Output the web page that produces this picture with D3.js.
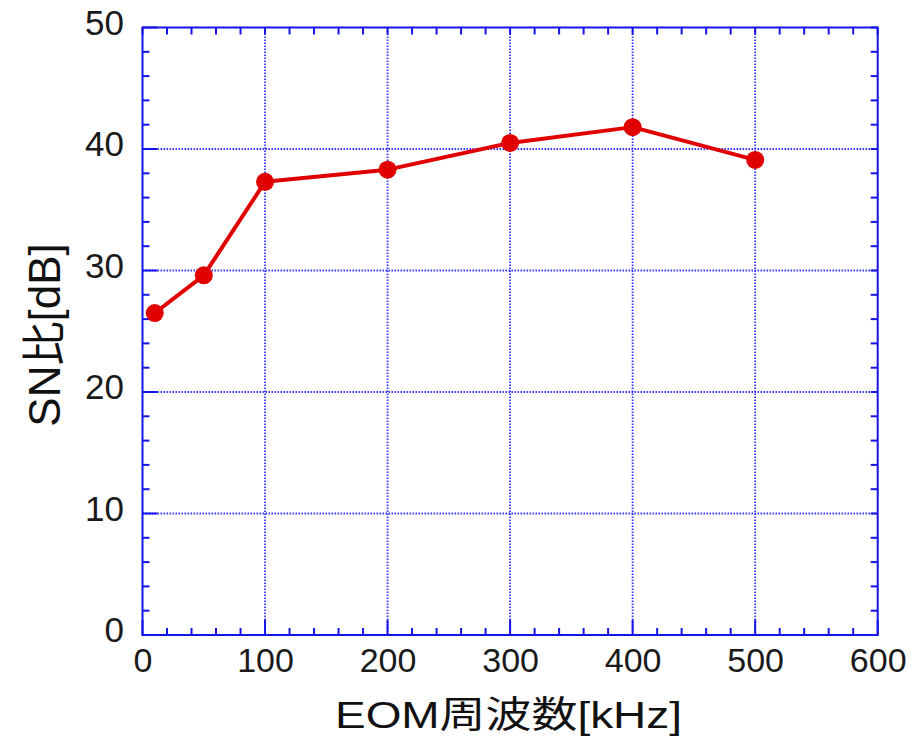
<!DOCTYPE html>
<html>
<head>
<meta charset="utf-8">
<script src="https://cdn.jsdelivr.net/npm/d3@7"></script>
<style>
  html, body { margin: 0; padding: 0; background: #fff; }
  svg { display: block; }
  text { font-family: "Liberation Sans", Arial, sans-serif; fill: #1a1a1a; }
  .cjk { font-family: "Liberation Sans", "Noto Sans CJK JP", sans-serif; fill: #111; }
</style>
</head>
<body>
<svg id="chart" width="922" height="742"></svg>
<script>
// EOM modulation frequency [kHz] and measured SN ratio [dB]
const freqKHz = [10, 50, 100, 200, 300, 400, 500];
const snrDB   = [26.5, 29.6, 37.3, 38.3, 40.5, 41.8, 39.1];

const xTicks = [0, 100, 200, 300, 400, 500, 600];
const yTicks = [0, 10, 20, 30, 40, 50];
const xMinor = d3.range(0, 601, 20);
const yMinor = d3.range(0, 51, 2);

const xTitle = "EOM周波数[kHz]";
const yTitle = "SN比[dB]";

const axisBlue = "#1414e6";
const gridBlue = "#3434ff";
const red = "#e00000";

const svg = d3.select("#chart");
const plot = { left: 142.5, right: 877.7, top: 27.5, bottom: 635 };

const x = d3.scaleLinear().domain([0, 600]).range([plot.left, plot.right]);
const y = d3.scaleLinear().domain([0, 50]).range([plot.bottom, plot.top]);

// dotted grid at interior major ticks
const g = svg.append("g");
g.selectAll("line.gx").data(xTicks.filter(d => d > 0 && d < 600)).join("line")
  .attr("x1", d => x(d)).attr("x2", d => x(d))
  .attr("y1", plot.top).attr("y2", plot.bottom)
  .attr("stroke", gridBlue).attr("stroke-width", 1.8).attr("stroke-dasharray", "1.5,1.5");
g.selectAll("line.gy").data(yTicks.filter(d => d > 0 && d < 50)).join("line")
  .attr("y1", d => y(d)).attr("y2", d => y(d))
  .attr("x1", plot.left).attr("x2", plot.right)
  .attr("stroke", gridBlue).attr("stroke-width", 1.8).attr("stroke-dasharray", "1.5,1.5");

// inward ticks on all four sides
const minorLen = 7, majorLen = 15;
const isMajorX = d => d % 100 === 0;
const isMajorY = d => d % 10 === 0;
const tk = svg.append("g").attr("stroke", axisBlue).attr("stroke-width", 2);
tk.selectAll("line.bx").data(xMinor).join("line")
  .attr("x1", d => x(d)).attr("x2", d => x(d))
  .attr("y1", plot.bottom).attr("y2", d => plot.bottom - (isMajorX(d) ? majorLen : minorLen));
tk.selectAll("line.tx").data(xMinor).join("line")
  .attr("x1", d => x(d)).attr("x2", d => x(d))
  .attr("y1", plot.top).attr("y2", plot.top + minorLen);
tk.selectAll("line.ly").data(yMinor).join("line")
  .attr("y1", d => y(d)).attr("y2", d => y(d))
  .attr("x1", plot.left).attr("x2", d => plot.left + (isMajorY(d) ? majorLen : minorLen));
tk.selectAll("line.ry").data(yMinor).join("line")
  .attr("y1", d => y(d)).attr("y2", d => y(d))
  .attr("x1", plot.right).attr("x2", plot.right - minorLen);

// frame
svg.append("rect")
  .attr("x", plot.left).attr("y", plot.top)
  .attr("width", plot.right - plot.left).attr("height", plot.bottom - plot.top)
  .attr("fill", "none").attr("stroke", axisBlue).attr("stroke-width", 2);

// tick labels
svg.append("g").selectAll("text").data(xTicks).join("text")
  .attr("x", d => x(d) + 0.5).attr("y", 672)
  .attr("text-anchor", "middle").attr("font-size", 34)
  .text(d => d);
svg.append("g").selectAll("text").data(yTicks).join("text")
  .attr("x", 124).attr("y", d => y(d) + 7)
  .attr("text-anchor", "end").attr("font-size", 35)
  .text(d => d);

// series
const line = d3.line().x((d, i) => x(freqKHz[i])).y(d => y(d));
svg.append("path").datum(snrDB)
  .attr("d", line)
  .attr("fill", "none").attr("stroke", red).attr("stroke-width", 4)
  .attr("stroke-linejoin", "round");
svg.append("g").selectAll("circle").data(snrDB).join("circle")
  .attr("cx", (d, i) => x(freqKHz[i])).attr("cy", d => y(d))
  .attr("r", 9).attr("fill", red);

// axis titles
svg.append("text").attr("class", "cjk")
  .attr("x", 335).attr("y", 728)
  .attr("font-size", 37)
  .attr("textLength", 347).attr("lengthAdjust", "spacingAndGlyphs")
  .text(xTitle);
svg.append("text").attr("class", "cjk")
  .attr("transform", "translate(60,335) rotate(-90)")
  .attr("text-anchor", "middle").attr("font-size", 44)
  .text(yTitle);
</script>
</body>
</html>
